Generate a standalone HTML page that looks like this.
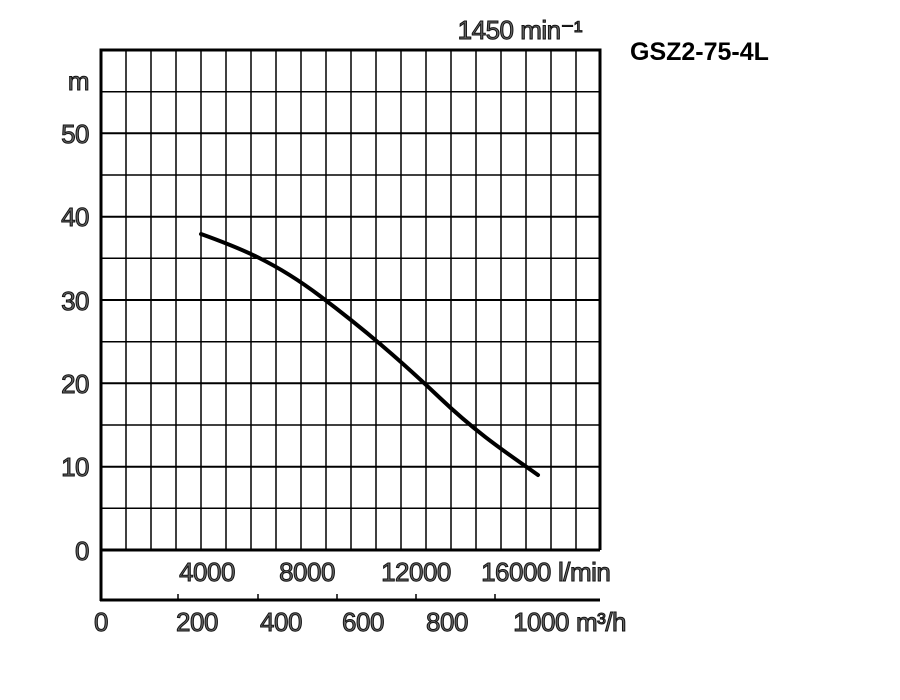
<!DOCTYPE html>
<html><head><meta charset="utf-8"><style>
html,body{margin:0;padding:0;background:#fff;}
svg{display:block;}
text{font-family:"Liberation Sans",Arial,sans-serif;fill:#666;stroke:#111;stroke-width:1px;font-size:26px;letter-spacing:-0.5px;}
</style></head><body>
<svg width="900" height="700" viewBox="0 0 900 700" xmlns="http://www.w3.org/2000/svg">
<g stroke="#000" stroke-width="1.5" fill="none">
<path d="M126 50V550M151 50V550M176 50V550M201 50V550M226 50V550M251 50V550M276 50V550M301 50V550M326 50V550M351 50V550M376 50V550M401 50V550M426 50V550M451 50V550M476 50V550M501 50V550M526 50V550M551 50V550M576 50V550"/>
<path d="M101 91.7H600M101 175H600M101 258.3H600M101 341.7H600M101 425H600M101 508.3H600"/>
<path stroke-width="2" d="M101 133.3H600M101 216.7H600M101 300H600M101 383.3H600M101 466.7H600"/>
<path stroke-width="3" d="M101 50H600V550M101 550H600M101 48.5V601M100 600H600"/>
<path stroke-width="1.5" d="M178 594V600M258 594V600M337 594V600M416 594V600M495 594V600"/>
<path stroke-width="4" stroke-linecap="round" d="M201 234 C 240 248, 275 262, 320 296 S 400 360, 440 398 S 510 455, 538 475"/>
</g>
<text x="582" y="39" text-anchor="end">1450 min⁻¹</text>
<text x="630" y="60" style="fill:#000;stroke:none;font-weight:bold;font-size:25px;letter-spacing:0">GSZ2-75-4L</text>
<text x="89" y="90" text-anchor="end">m</text>
<text x="89" y="143" text-anchor="end">50</text>
<text x="89" y="226" text-anchor="end">40</text>
<text x="89" y="310" text-anchor="end">30</text>
<text x="89" y="393" text-anchor="end">20</text>
<text x="89" y="476" text-anchor="end">10</text>
<text x="89" y="560" text-anchor="end">0</text>
<text x="207" y="581" text-anchor="middle">4000</text>
<text x="307" y="581" text-anchor="middle">8000</text>
<text x="416" y="581" text-anchor="middle">12000</text>
<text x="516" y="581" text-anchor="middle">16000</text>
<text x="558" y="581">l/min</text>
<text x="101" y="631" text-anchor="middle">0</text>
<text x="197" y="631" text-anchor="middle">200</text>
<text x="281" y="631" text-anchor="middle">400</text>
<text x="363" y="631" text-anchor="middle">600</text>
<text x="447" y="631" text-anchor="middle">800</text>
<text x="541" y="631" text-anchor="middle">1000</text>
<text x="576" y="631">m³/h</text>
</svg>
</body></html>
